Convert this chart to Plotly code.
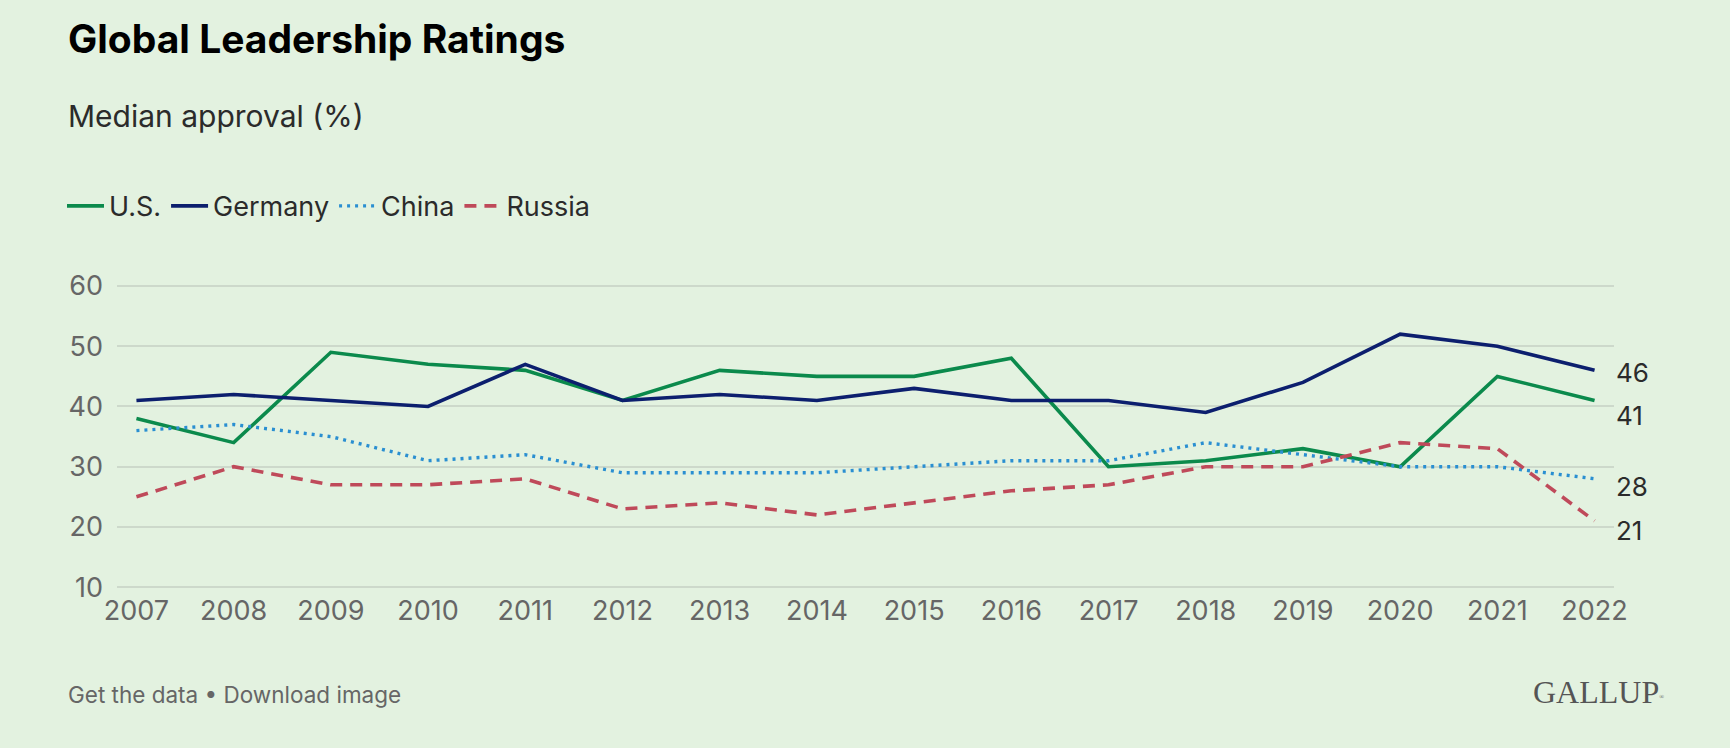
import plotly.graph_objects as go

years = [2007, 2008, 2009, 2010, 2011, 2012, 2013, 2014, 2015, 2016, 2017, 2018, 2019, 2020, 2021, 2022]
us = [38, 34, 49, 47, 46, 41, 46, 45, 45, 48, 30, 31, 33, 30, 45, 41]
germany = [41, 42, 41, 40, 47, 41, 42, 41, 43, 41, 41, 39, 44, 52, 50, 46]
china = [36, 37, 35, 31, 32, 29, 29, 29, 30, 31, 31, 34, 32, 30, 30, 28]
russia = [25, 30, 27, 27, 28, 23, 24, 22, 24, 26, 27, 30, 30, 34, 33, 21]
y_ticks = [10, 20, 30, 40, 50, 60]

W, H = 1730, 748
L, R = 117, 1614
Y60, Y10 = 285.7, 586.7
UNIT = (Y10 - Y60) / 50.0
YMIN, YMAX = 9.2, 61.5
TOP = Y60 - (YMAX - 60) * UNIT
BOT = Y10 + (10 - YMIN) * UNIT
BG = "#e3f2e0"
FONT = "Inter"

def px(x):
    return (x - L) / (R - L)

def py(y):
    return (BOT - y) / (BOT - TOP)

series = [
    ("U.S.", us, "#0b8a4c", "solid", 3.6),
    ("Germany", germany, "#0c1f6e", "solid", 3.6),
    ("China", china, "#2a8fd1", "3px,5px", 3.4),
    ("Russia", russia, "#bf4a5a", "12px,8px", 3.6),
]

fig = go.Figure()
for name, vals, color, dash, w in series:
    fig.add_trace(go.Scatter(x=years, y=vals, name=name, mode="lines",
                             line=dict(color=color, width=w, dash=dash),
                             hoverinfo="skip"))

# end labels (shift to avoid overlap)
end_shift = {"Germany": -2, "U.S.": -15, "China": -8, "Russia": -10}
for name, vals, color, dash, w in series:
    fig.add_annotation(x=1.0, xref="paper", y=vals[-1], yref="y", text=str(vals[-1]),
                       showarrow=False, xanchor="left", yanchor="middle", xshift=0,
                       yshift=end_shift[name],
                       font=dict(family=FONT, size=26, color="#2b2b2b"))

fig.add_annotation(x=px(66), y=py(38), xref="paper", yref="paper", text="<b>Global Leadership Ratings</b>",
                   showarrow=False, xanchor="left", yanchor="middle",
                   font=dict(family=FONT, size=39, color="#000000"))
fig.add_annotation(x=px(66), y=py(116), xref="paper", yref="paper", text="Median approval (%)",
                   showarrow=False, xanchor="left", yanchor="middle",
                   font=dict(family=FONT, size=30, color="#2b2b2b"))
fig.add_annotation(x=px(66), y=py(694), xref="paper", yref="paper", text="Get the data • Download image",
                   showarrow=False, xanchor="left", yanchor="middle",
                   font=dict(family=FONT, size=22.5, color="#666666"))
fig.add_annotation(x=px(1666), y=py(691), xref="paper", yref="paper",
                   text="GALLUP<span style='font-size:9px'><sup>®</sup></span>",
                   showarrow=False, xanchor="right", yanchor="middle",
                   font=dict(family="Liberation Serif", size=32, color="#555555"))

fig.update_layout(
    width=W, height=H,
    margin=dict(l=L, r=W - R, t=TOP, b=H - BOT),
    paper_bgcolor=BG, plot_bgcolor=BG,
    font=dict(family=FONT, color="#666666"),
    showlegend=True,
    legend=dict(orientation="h", x=px(62), y=py(206), xanchor="left", yanchor="middle",
                font=dict(family=FONT, size=27, color="#2b2b2b"), bgcolor="rgba(0,0,0,0)",
                itemwidth=37, tracegroupgap=0),
    xaxis=dict(range=[2006.8, 2022.2], tickmode="array", tickvals=years,
               ticktext=[str(y) for y in years], showgrid=False, zeroline=False,
               showline=False, ticks="", tickfont=dict(family=FONT, size=27, color="#666666"),
               fixedrange=True),
    yaxis=dict(range=[YMIN, YMAX], tickmode="array", tickvals=y_ticks, showgrid=True,
               gridcolor="#cdd9cb", gridwidth=1.5, zeroline=False, showline=False, ticks="",
               ticklabelstandoff=13,
               tickfont=dict(family=FONT, size=27, color="#666666"), fixedrange=True),
)

fig.write_html("out.html", config={"displayModeBar": False}, post_script=(
    "document.body.style.margin='0';document.body.style.padding='0';"
    "document.body.style.background='" + BG + "';"
    "document.documentElement.style.background='" + BG + "';"
))
